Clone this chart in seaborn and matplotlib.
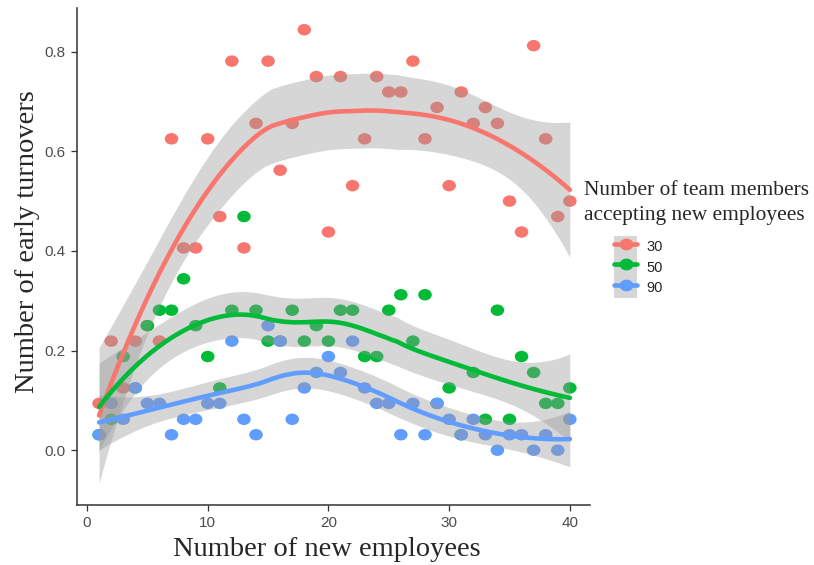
import numpy as np
import pandas as pd
import matplotlib
matplotlib.use("Agg")
import matplotlib.pyplot as plt
import seaborn as sns
from matplotlib.path import Path
from matplotlib.transforms import Affine2D
from matplotlib.patches import Patch
from matplotlib.lines import Line2D
from matplotlib.legend_handler import HandlerTuple

# ---- data -------------------------------------------------------------
new_employees = list(range(1, 41))
team_sizes = ["30", "50", "90"]

turnover_30 = [0.094, 0.219, 0.125, 0.219, 0.25, 0.219, 0.625, 0.406, 0.406, 0.625,
               0.469, 0.781, 0.406, 0.656, 0.781, 0.562, 0.656, 0.844, 0.75, 0.438,
               0.75, 0.531, 0.625, 0.75, 0.719, 0.719, 0.781, 0.625, 0.688, 0.531,
               0.719, 0.656, 0.688, 0.656, 0.5, 0.438, 0.812, 0.625, 0.469, 0.5]
turnover_50 = [0.031, 0.062, 0.188, 0.125, 0.25, 0.281, 0.281, 0.344, 0.25, 0.188,
               0.125, 0.281, 0.469, 0.281, 0.219, 0.219, 0.281, 0.219, 0.25, 0.219,
               0.281, 0.281, 0.188, 0.188, 0.281, 0.312, 0.219, 0.312, 0.094, 0.125,
               0.031, 0.156, 0.062, 0.281, 0.062, 0.188, 0.156, 0.094, 0.094, 0.125]
turnover_90 = [0.031, 0.094, 0.062, 0.125, 0.094, 0.094, 0.031, 0.062, 0.062, 0.094,
               0.094, 0.219, 0.062, 0.031, 0.25, 0.219, 0.062, 0.125, 0.156, 0.188,
               0.156, 0.219, 0.125, 0.094, 0.094, 0.031, 0.094, 0.031, 0.094, 0.062,
               0.031, 0.062, 0.031, 0.0, 0.031, 0.031, 0.0, 0.031, 0.0, 0.062]

x_ticks = [0, 10, 20, 30, 40]
y_ticks = [0.0, 0.2, 0.4, 0.6, 0.8]
y_tick_labels = ["0.0", "0.2", "0.4", "0.6", "0.8"]

palette = {"30": "#F8766D", "50": "#00BA38", "90": "#619CFF"}

df = pd.DataFrame({
    "employees": new_employees * 3,
    "turnovers": turnover_30 + turnover_50 + turnover_90,
    "team": [t for t in team_sizes for _ in new_employees],
})


# ---- local quadratic regression (loess, span 0.75) with 95% band --------
def t_quantile(df_):
    z = 1.959963985
    return (z + (z**3 + z) / (4 * df_)
            + (5 * z**5 + 16 * z**3 + 3 * z) / (96 * df_**2)
            + (3 * z**7 + 19 * z**5 + 17 * z**3 - 15 * z) / (384 * df_**3))


def loess_band(x, y, grid, span=0.75):
    x = np.asarray(x, float)
    y = np.asarray(y, float)
    n = len(x)
    q = int(np.floor(n * span))

    def operator(points):
        L = np.zeros((len(points), n))
        for i, x0 in enumerate(points):
            d = np.abs(x - x0)
            h = np.sort(d)[q - 1] + 1e-9
            u = np.clip(d / h, 0, 1)
            w = (1 - u**3) ** 3
            X = np.column_stack([np.ones(n), x - x0, (x - x0) ** 2])
            XtW = X.T * w
            L[i] = np.linalg.solve(XtW @ X, XtW)[0]
        return L

    Lg = operator(grid)
    Ld = operator(x)
    fit = Lg @ y
    M = np.eye(n) - Ld
    R = M.T @ M
    d1 = np.trace(R)
    d2 = np.trace(R @ R)
    s = np.sqrt(np.sum((M @ y) ** 2) / d1)
    se = s * np.sqrt((Lg**2).sum(axis=1))
    tq = t_quantile(d1**2 / d2)
    return fit, fit - tq * se, fit + tq * se


smooth_rows = []
for team in team_sizes:
    sub = df[df["team"] == team]
    grid = np.linspace(sub["employees"].min(), sub["employees"].max(), 80)
    fit, lo, hi = loess_band(sub["employees"], sub["turnovers"], grid)
    smooth_rows.append(pd.DataFrame({"employees": grid, "fit": fit,
                                     "lo": lo, "hi": hi, "team": team}))
smooth = pd.concat(smooth_rows, ignore_index=True)

# ---- figure -------------------------------------------------------------
sns.set_style("ticks")
W, H = 814, 565
fig = plt.figure(figsize=(W / 100, H / 100), dpi=100)
ax = fig.add_axes([77 / W, (H - 505) / H, (590 - 77) / W, (505 - 8) / H])

ellipse = Path(Affine2D().scale(1.18, 1.0).transform(Path.unit_circle().vertices),
               Path.unit_circle().codes)

sns.scatterplot(data=df, x="employees", y="turnovers", hue="team",
                palette=palette, hue_order=team_sizes, marker=ellipse,
                s=95, linewidth=0, ax=ax, legend=False, zorder=2)

for team in team_sizes:
    part = smooth[smooth["team"] == team]
    ax.fill_between(part["employees"], part["lo"], part["hi"],
                    color="#999999", alpha=0.4, linewidth=0, zorder=3)

sns.lineplot(data=smooth, x="employees", y="fit", hue="team",
             palette=palette, hue_order=team_sizes, linewidth=3.3,
             ax=ax, legend=False, zorder=4, sort=True)

ax.set_xlim(-0.83, 41.67)
ax.set_ylim(-0.110, 0.8876)
ax.set_xticks(x_ticks)
ax.set_yticks(y_ticks)
ax.set_yticklabels(y_tick_labels)
ax.set_xlabel("")
ax.set_ylabel("")
sns.despine(ax=ax)
for side in ("left", "bottom"):
    ax.spines[side].set_color("#333333")
    ax.spines[side].set_linewidth(1.1)
ax.tick_params(axis="both", length=4, width=0.9, color="#333333",
               labelsize=11, labelcolor="#4d4d4d", pad=4)
for lab in ax.get_xticklabels() + ax.get_yticklabels():
    lab.set_fontfamily("Liberation Sans")

serif = "Liberation Serif"
fig.text(28 / W, 1 - 242 / H, "Number of early turnovers", rotation=90,
         ha="center", va="center", fontsize=20.5, family=serif)
fig.text(327 / W, 1 - 549 / H, "Number of new employees",
         ha="center", va="center", fontsize=20.5, family=serif)
fig.text(584 / W, 1 - 181 / H, "Number of team members\naccepting new employees",
         ha="left", va="top", fontsize=15.4, family=serif, linespacing=1.45)

handles = []
for team in team_sizes:
    key_bg = Patch(facecolor="#999999", alpha=0.4, edgecolor="none")
    key_mark = Line2D([], [], color=palette[team], lw=3.3, marker=ellipse,
                      markersize=10, markeredgewidth=0)
    handles.append((key_bg, key_mark))
fig.legend(handles, team_sizes, handler_map={tuple: HandlerTuple(ndivide=1)},
           loc="upper left", bbox_to_anchor=(614 / W, 1 - 236 / H),
           frameon=False, borderpad=0, borderaxespad=0,
           handlelength=1.6, handleheight=1.8, labelspacing=0.0,
           handletextpad=0.65, prop={"family": "Liberation Sans", "size": 10.5})

fig.savefig("out.png", dpi=100)
